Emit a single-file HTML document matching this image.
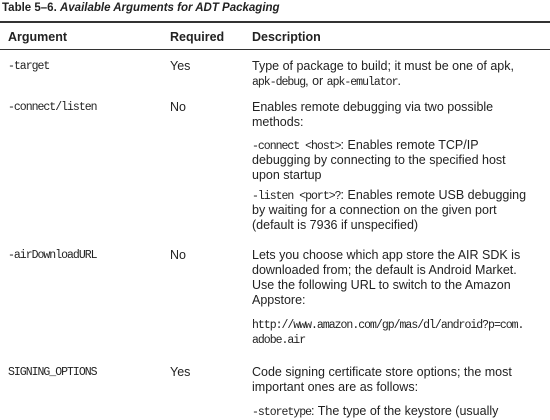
<!DOCTYPE html>
<html><head><style>
body{margin:0;width:550px;height:418px;background:#fff;position:relative;overflow:hidden;font-family:"Liberation Sans",sans-serif;color:#222;}
.t{position:absolute;font-size:12.5px;line-height:15px;white-space:nowrap;}
.m{font-family:"Liberation Mono",monospace;font-size:11.5px;letter-spacing:-1px;}
.b{font-weight:bold;}
.r{position:absolute;left:0;width:550px;background:#333;}
</style></head><body>
<div class="t" style="left:2px;top:1px;font-size:11.5px;font-weight:bold;">Table 5–6. <i>Available Arguments for ADT Packaging</i></div>
<div class="r" style="top:21px;height:2px;"></div>
<div class="t b" style="left:8px;top:30px;">Argument</div>
<div class="t b" style="left:170px;top:30px;">Required</div>
<div class="t b" style="left:252px;top:30px;">Description</div>
<div class="r" style="top:49px;height:1px;"></div>

<div class="t m" style="left:8px;top:59px;">-target</div>
<div class="t" style="left:170px;top:59px;">Yes</div>
<div class="t" style="left:252px;top:59px;">Type of package to build; it must be one of apk,</div>
<div class="t" style="left:252px;top:74px;"><span class="m">apk-debug</span>, or <span class="m">apk-emulator</span>.</div>

<div class="t m" style="left:8px;top:100px;">-connect/listen</div>
<div class="t" style="left:170px;top:100px;">No</div>
<div class="t" style="left:252px;top:100px;">Enables remote debugging via two possible</div>
<div class="t" style="left:252px;top:115px;">methods:</div>
<div class="t" style="left:252px;top:138px;"><span class="m">-connect &lt;host&gt;</span>: Enables remote TCP/IP</div>
<div class="t" style="left:252px;top:153px;">debugging by connecting to the specified host</div>
<div class="t" style="left:252px;top:168px;">upon startup</div>
<div class="t" style="left:252px;top:188px;"><span class="m">-listen &lt;port&gt;?</span>: Enables remote USB debugging</div>
<div class="t" style="left:252px;top:203px;">by waiting for a connection on the given port</div>
<div class="t" style="left:252px;top:218px;">(default is 7936 if unspecified)</div>

<div class="t m" style="left:8px;top:248px;">-airDownloadURL</div>
<div class="t" style="left:170px;top:248px;">No</div>
<div class="t" style="left:252px;top:248px;">Lets you choose which app store the AIR SDK is</div>
<div class="t" style="left:252px;top:263px;">downloaded from; the default is Android Market.</div>
<div class="t" style="left:252px;top:278px;">Use the following URL to switch to the Amazon</div>
<div class="t" style="left:252px;top:293px;">Appstore:</div>
<div class="t m" style="left:252px;top:318px;">http://www.amazon.com/gp/mas/dl/android?p=com.</div>
<div class="t m" style="left:252px;top:333px;">adobe.air</div>

<div class="t m" style="left:8px;top:365px;">SIGNING_OPTIONS</div>
<div class="t" style="left:170px;top:365px;">Yes</div>
<div class="t" style="left:252px;top:365px;">Code signing certificate store options; the most</div>
<div class="t" style="left:252px;top:380px;">important ones are as follows:</div>
<div class="t" style="left:252px;top:404px;"><span class="m">-storetype</span>: The type of the keystore (usually</div>
</body></html>
